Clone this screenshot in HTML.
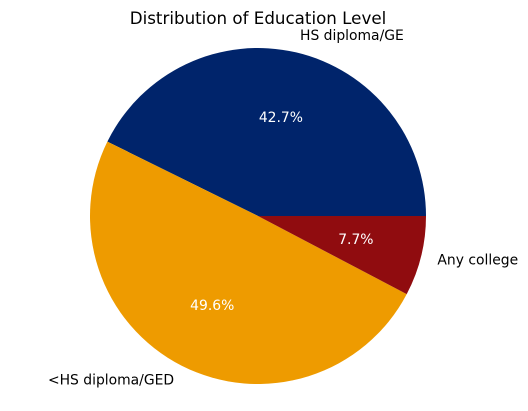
<!DOCTYPE html>
<html>
<head>
<meta charset="utf-8">
<style>
html,body{margin:0;padding:0;background:#fff;}
svg{display:block;font-family:"DejaVu Sans","Liberation Sans",sans-serif;}
</style>
</head>
<body>
<svg id="chart" width="528" height="411" viewBox="0 0 528 411">
  <text x="258" y="24" text-anchor="middle" font-size="16.7" fill="#000">Distribution of Education Level</text>
  <g id="slices"></g>
  <g id="labels"></g>
</svg>
<script>
const categories = ["HS diploma/GE", "<HS diploma/GED", "Any college"];
const values = [42.7, 49.6, 7.7];
const pctLabels = ["42.7%", "49.6%", "7.7%"];
const colors = ["#00246B", "#EE9B00", "#900C0F"];

const cx = 258, cy = 216, R = 168;
const ns = "http://www.w3.org/2000/svg";
const slicesG = document.getElementById("slices");
const labelsG = document.getElementById("labels");
const total = values.reduce((a, b) => a + b, 0);
function pt(angDeg, r) {
  const a = angDeg * Math.PI / 180;
  return [cx + r * Math.cos(a), cy - r * Math.sin(a)];
}
let start = 0;
values.forEach((v, i) => {
  const sweep = v / total * 360;
  const end = start + sweep;
  const [x1, y1] = pt(start, R);
  const [x2, y2] = pt(end, R);
  const large = sweep > 180 ? 1 : 0;
  const p = document.createElementNS(ns, "path");
  p.setAttribute("d", `M${cx},${cy} L${x1},${y1} A${R},${R} 0 ${large} 0 ${x2},${y2} Z`);
  p.setAttribute("fill", colors[i]);
  
  
  slicesG.appendChild(p);

  const mid = start + sweep / 2;
  const [lx, ly] = pt(mid, R * 1.1);
  const t = document.createElementNS(ns, "text");
  t.setAttribute("x", lx);
  t.setAttribute("y", ly);
  t.setAttribute("dominant-baseline", "central");
  t.setAttribute("text-anchor", Math.cos(mid * Math.PI / 180) >= 0 ? "start" : "end");
  t.setAttribute("font-size", "13.9");
  t.setAttribute("fill", "#000");
  t.textContent = categories[i];
  
  
  labelsG.appendChild(t);

  const [px, py] = pt(mid, R * 0.6);
  const q = document.createElementNS(ns, "text");
  q.setAttribute("x", px);
  q.setAttribute("y", py);
  q.setAttribute("dominant-baseline", "central");
  q.setAttribute("text-anchor", "middle");
  q.setAttribute("font-size", "13.9");
  q.setAttribute("fill", "#fff");
  q.textContent = pctLabels[i];
  
  
  labelsG.appendChild(q);

  start = end;
});
</script>
</body>
</html>
